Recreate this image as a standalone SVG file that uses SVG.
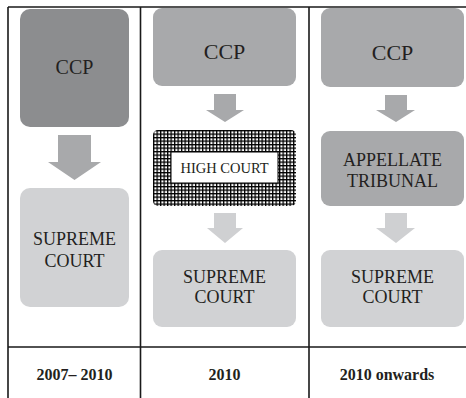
<svg xmlns="http://www.w3.org/2000/svg" width="466" height="398" viewBox="0 0 466 398">
<style>
.t{font-family:"Liberation Serif","Times New Roman",serif;fill:#231f20;text-anchor:middle}
.b{font-weight:bold;font-size:16px}
.grid{stroke:#1a1a1a;stroke-width:1.6;fill:none}
.dark{fill:#8c8d8f}
.mid{fill:#a8a9ab}
.light{fill:#d1d2d4}
.arrA{fill:#a8a9ab}
.arrB{fill:#cfd0d2}
</style>
<defs>
<pattern id="hatch" x="153" y="130" width="3.5" height="3.5" patternUnits="userSpaceOnUse">
<rect width="3.5" height="3.5" fill="#000"/>
<rect x="1.3" y="1.3" width="2.2" height="2.2" fill="#fff"/>
</pattern>
</defs>
<rect width="466" height="398" fill="#fff"/>
<g id="table">
<path class="grid" d="M8,7H466M8,347H466M8,7V398M140.5,7V398M309,7V398"/>
</g>
<g id="connectors">
<polygon class="arrA" points="58,135 91,135 91,162 101,162 74.5,180 48,162 58,162"/>
<polygon class="arrA" points="214,94 236,94 236,110 244,110 225,122 206,110 214,110"/>
<polygon class="arrB" points="214,213 236,213 236,228 243,228 225,243 207,228 214,228"/>
<polygon class="arrA" points="385,95 407,95 407,110 415,110 396,122 376,110 385,110"/>
<polygon class="arrB" points="385,213 407,213 407,228 415,228 396,243 376,228 385,228"/>
</g>
<g id="ccp1">
<rect class="dark" x="20" y="9" width="109" height="118" rx="10"/>
<text class="t" x="74.5" y="74" font-size="20">CCP</text>
</g>
<g id="supreme1">
<rect class="light" x="20" y="188" width="109" height="119" rx="10"/>
<text class="t" x="74.5" y="245" font-size="18">SUPREME</text>
<text class="t" x="74.5" y="267" font-size="18">COURT</text>
</g>
<g id="ccp2">
<rect class="mid" x="153" y="8" width="143" height="78" rx="9"/>
<text class="t" x="224.5" y="59" font-size="22">CCP</text>
</g>
<g id="highcourt">
<rect x="153" y="130" width="143" height="76" rx="5" fill="url(#hatch)"/>
<rect x="171" y="152" width="107" height="31" fill="#fff" stroke="#000" stroke-width="1"/>
<text class="t" x="224.5" y="173" font-size="14.5">HIGH COURT</text>
</g>
<g id="supreme2">
<rect class="light" x="153" y="250" width="143" height="77" rx="9"/>
<text class="t" x="224.5" y="283" font-size="18">SUPREME</text>
<text class="t" x="224.5" y="303" font-size="18">COURT</text>
</g>
<g id="ccp3">
<rect class="mid" x="321" y="8" width="143" height="79" rx="9"/>
<text class="t" x="392.5" y="60" font-size="22">CCP</text>
</g>
<g id="appellate">
<rect class="mid" x="321" y="131" width="143" height="75" rx="9"/>
<text class="t" x="392.5" y="166" font-size="18">APPELLATE</text>
<text class="t" x="392.5" y="187" font-size="18">TRIBUNAL</text>
</g>
<g id="supreme3">
<rect class="light" x="321" y="250" width="143" height="77" rx="9"/>
<text class="t" x="392.5" y="283" font-size="18">SUPREME</text>
<text class="t" x="392.5" y="303" font-size="18">COURT</text>
</g>
<g id="labels">
<text class="t b" x="74.5" y="380">2007– 2010</text>
<text class="t b" x="224.5" y="380">2010</text>
<text class="t b" x="387" y="380">2010 onwards</text>
</g>
</svg>
